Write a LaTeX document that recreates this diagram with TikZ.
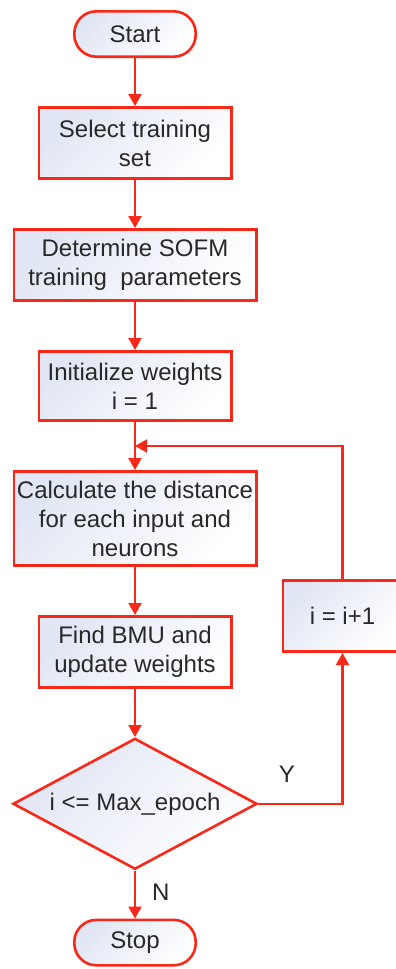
\documentclass[tikz,border=0pt]{standalone}
\usepackage{fontspec}
\setmainfont{Liberation Sans}
\usetikzlibrary{arrows.meta,positioning,shapes.geometric,calc}
\definecolor{flowred}{RGB}{250,40,25}
\definecolor{flowfill}{RGB}{224,230,243}
\definecolor{flowtext}{RGB}{40,40,40}

\begin{document}
\begin{tikzpicture}[node distance=24pt,
  base/.style={draw=flowred,line width=1.3pt,top color=flowfill,bottom color=white,shading angle=45,text=flowtext,font=\fontsize{12}{14.5}\selectfont,align=center,inner sep=0pt},
  term/.style={base,rounded corners=11pt,minimum width=60.7pt,minimum height=22.7pt},
  proc/.style={base,minimum width=96.2pt,minimum height=35.7pt},
  wide/.style={proc,minimum width=121.2pt},
  test/.style={base,diamond,aspect=1.9,minimum width=122pt,minimum height=65.5pt},
  lbl/.style={inner sep=0pt,text=flowtext,font=\fontsize{12}{14.5}\selectfont},
  arr/.style={draw=flowred,line width=1.1pt,-{Triangle[length=6pt,width=6.5pt]}}]
\useasboundingbox (0,0) rectangle (198pt,-484.5pt);
\node[term] (start) at (67.5pt,-17pt) {Start};
\node[proc,below=of start] (select) {Select training\\set};
\node[wide,below=of select] (params) {Determine SOFM\\training~~parameters};
\node[proc,below=of params,minimum height=34.7pt] (init) {Initialize weights\\i = 1};
\node[wide,below=of init,minimum height=47.2pt] (dist) {Calculate the distance\\for each input and\\neurons};
\node[proc,below=of dist] (bmu) {Find BMU and\\update weights};
\node[test,below=of bmu] (check) {i <= Max\_epoch};
\node[term,below=of check] (stop) {Stop};
\node[proc,minimum width=59.7pt,below right=6pt and 12pt of dist.south east,anchor=north west] (inc) {i = i+1};
\coordinate (join) at ($(init.south)!0.5!(dist.north)$);
\draw[arr] (start) -- (select);
\draw[arr] (select) -- (params);
\draw[arr] (params) -- (init);
\draw[arr] (init) -- (dist);
\draw[arr] (dist) -- (bmu);
\draw[arr] (bmu) -- (check);
\draw[arr] (check) -- node[lbl,pos=0.45,right=8pt]{N} (stop);
\draw[arr] (check.east) -| node[lbl,pos=0.17,above=10pt]{Y} (inc.south);
\draw[arr] (inc.north) |- (join);
\end{tikzpicture}
\end{document}
